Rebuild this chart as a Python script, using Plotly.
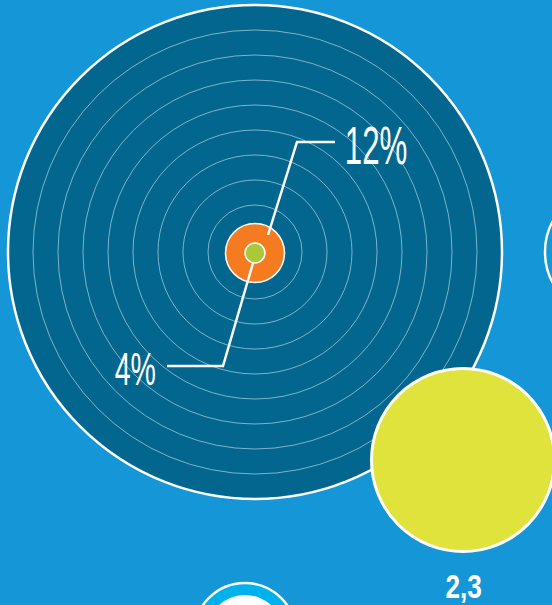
import plotly.graph_objects as go

# ---- data ----
labels = ["12%", "4%"]
values = [12, 4]
side_label = "2,3"
ring_count = 8

# ---- layout constants (pixel-like coordinates) ----
W, H = 552, 605
BG = "#1596D6"
CX, CY, R_BIG = 255, 252, 247
R_ORANGE, R_GREEN = 29.5, 10
RING_R0, RING_STEP = 47, 25

fig = go.Figure()
shapes = []

def circle(cx, cy, r, fill, line_color, lw):
    return dict(type="circle", xref="x", yref="y",
                x0=cx - r, x1=cx + r, y0=cy - r, y1=cy + r,
                fillcolor=fill, line=dict(color=line_color, width=lw), layer="below")

# right partially visible circle
shapes.append(circle(609, 252, 64, BG, "white", 2.5))
# bottom partially visible circle
shapes.append(circle(245, 634, 51, "#00B2EC", "white", 2.5))
shapes.append(circle(245, 634, 39, "white", "white", 0))

# big circle
shapes.append(circle(CX, CY, R_BIG, "#03668F", "white", 2.5))
for k in range(ring_count):
    r = RING_R0 + RING_STEP * k
    shapes.append(circle(CX, CY, r, "rgba(0,0,0,0)", "rgba(160,205,225,0.75)", 1))

# orange & green
shapes.append(circle(CX, CY + 1, R_ORANGE, "#F47B20", "white", 1.5))
shapes.append(circle(CX, CY + 1, R_GREEN, "#A9C93B", "white", 1.5))

# yellow circle
shapes.append(circle(463, 460, 91.5, "#E0E33C", "white", 3))

fig.update_layout(shapes=shapes)

# leader lines
fig.add_trace(go.Scatter(x=[268, 297, 335], y=[235, 142, 142], mode="lines",
                         line=dict(color="white", width=2.5), hoverinfo="skip"))
fig.add_trace(go.Scatter(x=[253, 223, 167], y=[263, 366, 366], mode="lines",
                         line=dict(color="white", width=2.5), hoverinfo="skip"))

font = "Liberation Sans, Arial, sans-serif"
fig.add_annotation(x=376, y=145, xref="x", yref="y", text=labels[0], showarrow=False,
                   xanchor="center", yanchor="middle",
                   font=dict(family=font, size=53, color="white"))
fig.add_annotation(x=135, y=369, xref="x", yref="y", text=labels[1], showarrow=False,
                   xanchor="center", yanchor="middle",
                   font=dict(family=font, size=46, color="white"))
fig.add_annotation(x=463, y=586, xref="x", yref="y", text="<b>" + side_label + "</b>",
                   showarrow=False, xanchor="center", yanchor="middle",
                   font=dict(family=font, size=34, color="white"))

fig.update_layout(
    width=W, height=H, margin=dict(l=0, r=0, t=0, b=0),
    paper_bgcolor=BG, plot_bgcolor=BG, showlegend=False,
    xaxis=dict(range=[0, W], visible=False, fixedrange=True),
    yaxis=dict(range=[H, 0], visible=False, fixedrange=True),
)

post = """
document.body.style.margin='0';
document.body.style.overflow='hidden';
var sc=[0.59,0.62,0.77];
document.querySelectorAll('.annotation-text').forEach(function(t,i){
  t.style.transformBox='fill-box';
  t.style.transformOrigin='center';
  t.style.transform='scaleX('+sc[i]+')';
});
"""
fig.write_html("out.html", config={"displayModeBar": False}, post_script=post)
